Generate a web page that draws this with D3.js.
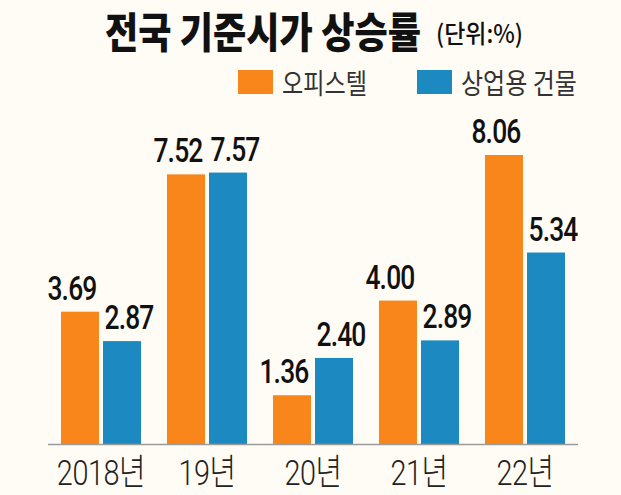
<!DOCTYPE html>
<html>
<head>
	<meta charset="utf-8">
	<script src="https://d3js.org/d3.v7.min.js"></script>
	<style>
		body { margin: 0; background: #fffcf6; }
		svg { display: block; }
		.title { font-family: "Noto Sans CJK KR", sans-serif; font-weight: 900; fill: #111; }
		.unit { font-family: "Noto Sans CJK KR", sans-serif; font-weight: 500; fill: #111; }
		.legend-text { font-family: "Noto Sans CJK KR", sans-serif; font-weight: 400; fill: #333; }
		.value { font-family: Roboto, "Liberation Sans", sans-serif; font-weight: 500; fill: #111; letter-spacing: -1px; }
		.year { font-family: Roboto, "Noto Sans CJK KR", sans-serif; font-weight: 300; fill: #222; letter-spacing: -0.5px; }
	</style>
</head>
<body>
	<div class="chart"></div>
	<script>
		// chart size
		var w = 621, h = 495;

		// data
		var years = ["2018년", "19년", "20년", "21년", "22년"];
		var series = ["오피스텔", "상업용 건물"];
		var officetel = [3.69, 7.52, 1.36, 4.00, 8.06];
		var commercial = [2.87, 7.57, 2.40, 2.89, 5.34];
		var colors = ["#f8861b", "#1d89c1"];

		var values = [officetel, commercial];

		var svg = d3.select(".chart")
			.append("svg")
			.attr("width", w)
			.attr("height", h);

		svg.append("rect")
			.attr("width", w)
			.attr("height", h)
			.attr("fill", "#fffcf6");

		// squeeze a text horizontally so it fills a given width
		function fitText(sel, x0, y0, width) {
			var len = sel.node().getComputedTextLength();
			sel.attr("transform", "translate(" + x0 + "," + y0 + ") scale(" + (width / len) + ",1)");
		}

		// scales
		var x = d3.scaleBand()
			.domain(years)
			.range([48, 578])
			.paddingInner(0.245)
			.paddingOuter(0.1225);

		var xs = d3.scaleBand()
			.domain(series)
			.range([0, x.bandwidth()])
			.paddingInner(0.095);

		var y = d3.scaleLinear()
			.domain([0, 8.06])
			.range([444, 155]);

		// title
		var title = svg.append("text")
			.attr("class", "title")
			.attr("font-size", 42)
			.text("전국 기준시가 상승률");
		fitText(title, 105, 48, 316);

		var unit = svg.append("text")
			.attr("class", "unit")
			.attr("font-size", 25)
			.text("(단위:%)");
		fitText(unit, 436, 43, 87);

		// legend
		var legendX = [238, 417];
		var legendW = [85, 116];
		var legend = svg.append("g").attr("class", "legend");
		series.forEach(function(s, i) {
			legend.append("rect")
				.attr("x", legendX[i])
				.attr("y", 70)
				.attr("width", 35)
				.attr("height", 24)
				.attr("fill", colors[i]);
			var t = legend.append("text")
				.attr("class", "legend-text")
				.attr("font-size", 28)
				.text(s);
			fitText(t, legendX[i] + 44, 94, legendW[i]);
		});

		// bars
		var groups = svg.append("g")
			.selectAll("g")
			.data(years)
			.enter()
			.append("g")
			.attr("transform", function(d) { return "translate(" + x(d) + ",0)"; });

		series.forEach(function(s, si) {
			groups.append("rect")
				.attr("x", xs(s))
				.attr("y", function(d, i) { return y(values[si][i]); })
				.attr("width", xs.bandwidth())
				.attr("height", function(d, i) { return y(0) - y(values[si][i]); })
				.attr("fill", colors[si]);

			// value labels, nudged apart since they are wider than the bars
			var nudge = si == 0 ? -8 : 7;
			groups.append("text")
				.attr("class", "value")
				.attr("text-anchor", "middle")
				.attr("font-size", 33)
				.attr("transform", function(d, i) {
					return "translate(" + (xs(s) + xs.bandwidth() / 2 + nudge) + "," + (y(values[si][i]) - 12) + ") scale(0.8,1)";
				})
				.text(function(d, i) { return values[si][i].toFixed(2); });
		});

		// axis line
		svg.append("line")
			.attr("x1", x.range()[0])
			.attr("x2", x.range()[1])
			.attr("y1", y(0) + 0.5)
			.attr("y2", y(0) + 0.5)
			.attr("stroke", "#9a9a9a")
			.attr("stroke-width", 1.5);

		// year labels
		svg.append("g")
			.selectAll("text")
			.data(years)
			.enter()
			.append("text")
			.attr("class", "year")
			.attr("text-anchor", "middle")
			.attr("font-size", 36)
			.attr("transform", function(d) {
				return "translate(" + (x(d) + x.bandwidth() / 2) + ",485) scale(0.8,1)";
			})
			.text(function(d) { return d; });
	</script>
</body>
</html>
